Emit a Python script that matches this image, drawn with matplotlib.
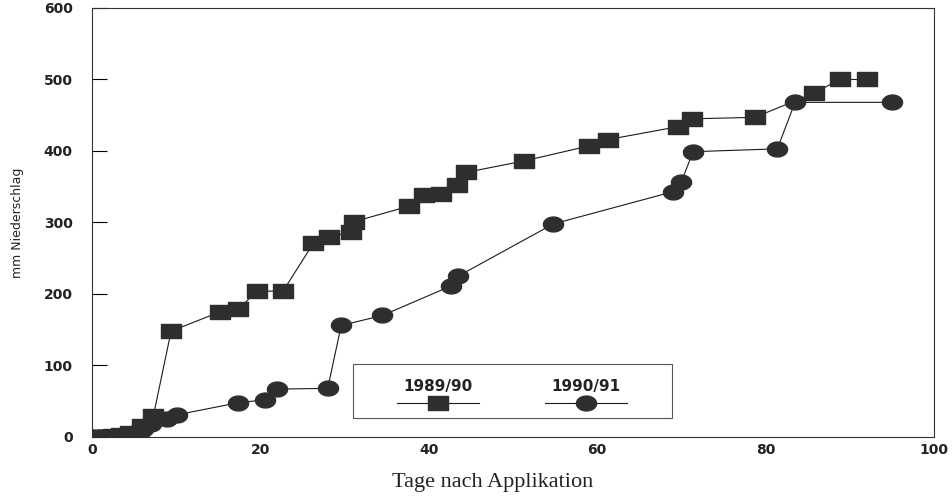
import numpy as np
import matplotlib.pyplot as plt
from matplotlib.path import Path
from matplotlib.patches import Rectangle
from matplotlib.lines import Line2D

# Cumulative rainfall after application, two seasons
days_8990 = [0, 0.5, 1.5, 2.5, 3.5, 4.5, 6, 7.3, 9.4, 15.2, 17.4, 19.6, 22.7,
             26.3, 28.2, 30.8, 31.1, 37.7, 39.4, 41.4, 43.3, 44.4, 51.3,
             59.0, 61.3, 69.6, 71.3, 78.7, 85.8, 88.8, 92.1]
rain_8990 = [0, 0, 0, 1, 3, 6, 15, 30, 148, 175, 179, 204, 204,
             271, 279, 287, 301, 323, 338, 340, 352, 370, 386,
             407, 416, 434, 445, 447, 481, 500, 500]

days_9091 = [0, 1, 2, 3, 4, 5, 6, 7, 8.9, 10.1, 17.4, 20.6, 22, 28, 29.6,
             34.5, 42.6, 43.5, 54.8, 69, 70, 71.4, 81.4, 83.5, 95]
rain_9091 = [0, 0, 0, 1, 2, 5, 10, 18, 25, 31, 48, 52, 67, 68, 156,
             170, 211, 225, 298, 343, 357, 399, 403, 468, 468]

labels = ['1989/90', '1990/91']

# flat markers: wide square and wide ellipse
box = Path([(-0.5, -0.36), (0.5, -0.36), (0.5, 0.36), (-0.5, 0.36), (-0.5, -0.36)],
           [Path.MOVETO, Path.LINETO, Path.LINETO, Path.LINETO, Path.CLOSEPOLY])
t = np.linspace(0, 2 * np.pi, 40)
oval = Path(np.column_stack([0.5 * np.cos(t), 0.37 * np.sin(t)]), closed=True)

mcol = '#2e2e2e'
lcol = '#1a1a1a'

fig = plt.figure(figsize=(9.53, 4.98), dpi=100)
ax = fig.add_axes([0.0965, 0.1225, 0.8835, 0.8615])

ax.plot(days_8990, rain_8990, color=lcol, lw=0.8, marker=box, ms=14.5,
        mfc=mcol, mec=mcol, zorder=3)
ax.plot(days_9091, rain_9091, color=lcol, lw=0.8, marker=oval, ms=14.5,
        mfc=mcol, mec=mcol, zorder=3)

ax.set_xlim(0, 100)
ax.set_ylim(0, 600)
ax.set_xticks(np.arange(0, 101, 20))
ax.set_yticks(np.arange(0, 601, 100))
ax.tick_params(axis='y', direction='in', length=11, width=0.8, pad=14,
               labelsize=10)
ax.tick_params(axis='x', length=0, pad=4, labelsize=10)
for lab in ax.get_xticklabels() + ax.get_yticklabels():
    lab.set_fontweight('bold')
    lab.set_color('#222222')
for s in ax.spines.values():
    s.set_linewidth(0.8)
    s.set_color('#333333')

ax.set_ylabel('mm Niederschlag', fontsize=9, labelpad=14, color='#222222')
fig.text(0.517, 0.012, 'Tage nach Applikation', family='Liberation Serif',
         fontsize=16, ha='center', va='bottom', color='#222222')

# legend box with captions above the symbols
tr = ax.transAxes
ax.add_patch(Rectangle((0.31, 0.044), 0.379, 0.126, transform=tr, fill=False,
                       lw=0.8, ec='#555555', zorder=2))
for xc, lab, mk in [(0.411, labels[0], box), (0.587, labels[1], oval)]:
    ax.text(xc, 0.117, lab, transform=tr, ha='center', va='center',
            fontsize=11, fontweight='bold', color='#222222')
    ax.add_line(Line2D([xc - 0.049, xc + 0.049], [0.079, 0.079], transform=tr,
                       color=lcol, lw=0.8))
    ax.add_line(Line2D([xc], [0.079], transform=tr, marker=mk, ms=14.5,
                       mfc=mcol, mec=mcol, lw=0))

fig.savefig('out.png', dpi=100)
